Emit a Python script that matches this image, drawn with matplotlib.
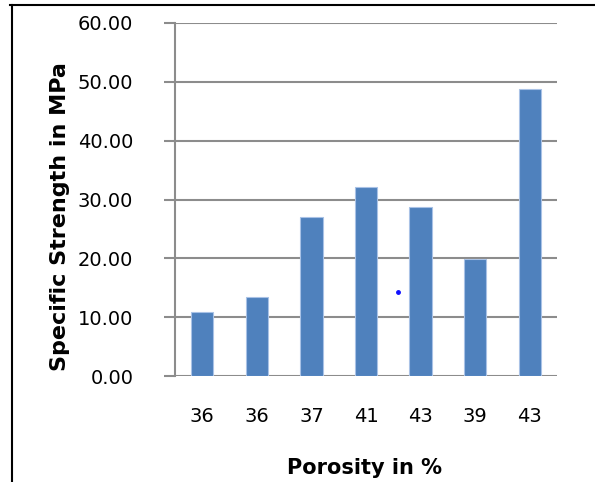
import numpy as np
import matplotlib.pyplot as plt
from matplotlib.lines import Line2D

# porosity of each sample and its specific strength
porosity = ["36", "36", "37", "41", "43", "39", "43"]
strength = [10.8, 13.4, 27.1, 32.2, 28.8, 19.9, 48.8]

# stray point sitting between the 41 and 43 bars
dot_x = [3.59]
dot_y = [14.3]

fig = plt.figure(figsize=(5.95, 4.82), dpi=100)
ax = fig.add_axes([175 / 595, 106 / 482, 382 / 595, 353 / 482])

x = np.arange(len(porosity))
ax.bar(x, strength, width=0.41, color="#4F81BD", edgecolor="#A9C2E6",
       linewidth=0.8, zorder=3)
ax.plot(dot_x, dot_y, "o", color="#1010ff", markersize=2.5, zorder=4)

ax.set_xlim(-0.5, len(porosity) - 0.5)
ax.set_ylim(0, 60)
ax.set_yticks(np.arange(0, 61, 10))
ax.set_yticklabels([f"{v:.2f}" for v in np.arange(0, 61, 10)],
                   fontsize=14, family="DejaVu Sans")
ax.set_xticks(x)
ax.set_xticklabels(porosity, fontsize=14, family="DejaVu Sans")

ax.yaxis.grid(True, color="#8c8c8c", linewidth=1.5, zorder=0)
for side in ["top", "right", "bottom"]:
    ax.spines[side].set_visible(False)
ax.spines["left"].set_color("#8c8c8c")
ax.spines["left"].set_linewidth(1.5)
ax.tick_params(axis="y", length=8, width=1.5, color="#8c8c8c", pad=22)
ax.tick_params(axis="x", length=0, pad=22)

ax.set_ylabel("Specific Strength in MPa", fontsize=16, fontweight="bold",
              family="DejaVu Sans")
ax.set_xlabel("Porosity in %", fontsize=15, fontweight="bold",
              family="DejaVu Sans")
ax.yaxis.set_label_coords(-0.275, 0.453)
ax.xaxis.set_label_coords(0.497, -0.233)

# table cell border around the chart
fig.add_artist(Line2D([10 / 595, 1], [1 - 5 / 482, 1 - 5 / 482],
                      color="black", linewidth=1.5))
fig.add_artist(Line2D([12 / 595, 12 / 595], [0, 1 - 5 / 482],
                      color="black", linewidth=1.5))

fig.savefig("out.png", dpi=100)
